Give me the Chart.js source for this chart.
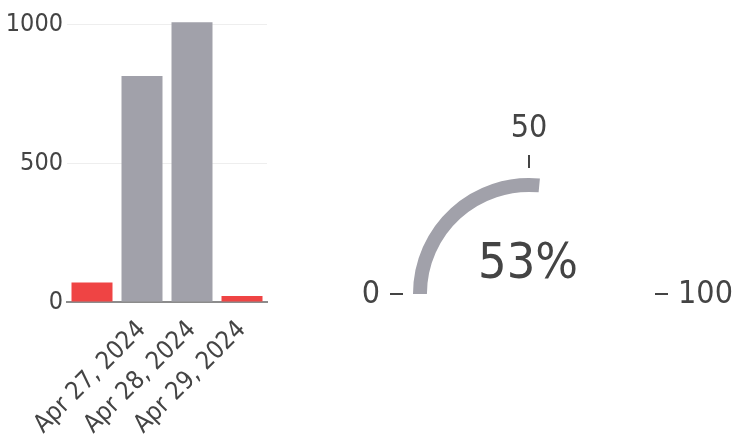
<!DOCTYPE html>
<html>
<head>
<meta charset="utf-8">
<script src="https://cdn.jsdelivr.net/npm/chart.js@4.4.1/dist/chart.umd.min.js"></script>
<style>
  html, body { margin: 0; padding: 0; background: #fff; }
  body { width: 734px; height: 436px; position: relative; overflow: hidden; }
  #barWrap { position: absolute; left: 0; top: 0; width: 280px; height: 436px; }
  #gaugeWrap { position: absolute; left: 350px; top: 0; width: 384px; height: 436px; }
</style>
</head>
<body>
<div id="barWrap"><canvas id="bar-chart"></canvas></div>
<div id="gaugeWrap"><canvas id="gauge-chart"></canvas></div>
<script>
// data
const dates = ['Apr 26, 2024', 'Apr 27, 2024', 'Apr 28, 2024', 'Apr 29, 2024'];
const dateTicks = ['', 'Apr 27, 2024', 'Apr 28, 2024', 'Apr 29, 2024'];
const counts = [70, 813, 1007, 22];
const yTicks = [0, 500, 1000];
const gaugeValue = 53;
const gaugeMax = 100;
const gaugeTicks = [0, 50, 100];

const RED = '#ef4444';
const GRAY = '#a1a1aa';
const TEXT = '#444';
const barColors = [RED, GRAY, GRAY, RED];

Chart.defaults.font.family = "'DejaVu Sans Condensed', 'DejaVu Sans', sans-serif";
Chart.defaults.color = TEXT;
Chart.defaults.animation = false;

// This is the daily bar chart
new Chart(document.getElementById('bar-chart'), {
  type: 'bar',
  data: {
    labels: dates,
    datasets: [{
      data: counts,
      backgroundColor: ctx => barColors[ctx.dataIndex],
      barPercentage: 0.82,
      categoryPercentage: 1
    }]
  },
  options: {
    responsive: true,
    maintainAspectRatio: false,
    layout: { padding: { top: 8, right: 13, bottom: 0, left: 0 } },
    plugins: { legend: { display: false }, tooltip: { enabled: false } },
    scales: {
      x: {
        grid: { display: false },
        border: { display: true, color: '#8c8c8c', width: 2 },
        ticks: {
          autoSkip: false,
          minRotation: 45,
          maxRotation: 45,
          padding: 7,
          font: { size: 25, lineHeight: 1 },
          callback: (v, i) => dateTicks[i]
        },
        afterFit: s => { s.height = 134; s.paddingLeft = 0; s.paddingRight = 0; }
      },
      y: {
        min: 0,
        max: 1058,
        grid: { color: '#eeeeee', drawTicks: false },
        border: { display: false },
        ticks: { padding: 4, font: { size: 25 }, callback: v => String(v) },
        afterBuildTicks: s => { s.ticks = yTicks.map(v => ({ value: v })); },
        afterFit: s => { s.width = 67; s.paddingTop = 0; s.paddingBottom = 0; }
      }
    }
  }
});

// gauge ticks and the big number
const gaugeText = {
  id: 'gaugeText',
  afterDraw(chart) {
    const arc = chart.getDatasetMeta(0).data[0];
    const cx = arc.x, cy = arc.y, r = arc.outerRadius;
    const ctx = chart.ctx;
    ctx.save();
    ctx.strokeStyle = TEXT;
    ctx.fillStyle = TEXT;
    ctx.lineWidth = 2;
    ctx.font = "32px 'DejaVu Sans Condensed', 'DejaVu Sans', sans-serif";
    gaugeTicks.forEach(t => {
      const a = Math.PI + (t / gaugeMax) * Math.PI;
      const c = Math.cos(a), s = Math.sin(a);
      ctx.beginPath();
      ctx.moveTo(cx + (r + 10) * c, cy + (r + 10) * s);
      ctx.lineTo(cx + (r + 23) * c, cy + (r + 23) * s);
      ctx.stroke();
      const lr = r + 33;
      ctx.textAlign = c < -0.3 ? 'right' : (c > 0.3 ? 'left' : 'center');
      ctx.textBaseline = s < -0.3 ? 'bottom' : 'middle';
      ctx.fillText(String(t), cx + lr * c, cy + lr * s + (s < -0.3 ? 0 : 1));
    });
    ctx.font = "50px 'DejaVu Sans Condensed', 'DejaVu Sans', sans-serif";
    ctx.textAlign = 'center';
    ctx.textBaseline = 'alphabetic';
    ctx.fillText(gaugeValue + '%', cx - 1, cy - 16);
    ctx.restore();
  }
};

// This is the gauge
new Chart(document.getElementById('gauge-chart'), {
  type: 'doughnut',
  data: {
    labels: ['value', 'rest'],
    datasets: [{
      data: [gaugeValue, gaugeMax - gaugeValue],
      backgroundColor: [GRAY, 'rgba(0,0,0,0)'],
      borderWidth: 0
    }]
  },
  options: {
    responsive: true,
    maintainAspectRatio: false,
    rotation: -90,
    circumference: 180,
    radius: 116,
    cutout: '88%',
    layout: { padding: { top: 36, right: 26, bottom: 0, left: 0 } },
    plugins: { legend: { display: false }, tooltip: { enabled: false } },
    events: []
  },
  plugins: [gaugeText]
});
</script>
</body>
</html>
